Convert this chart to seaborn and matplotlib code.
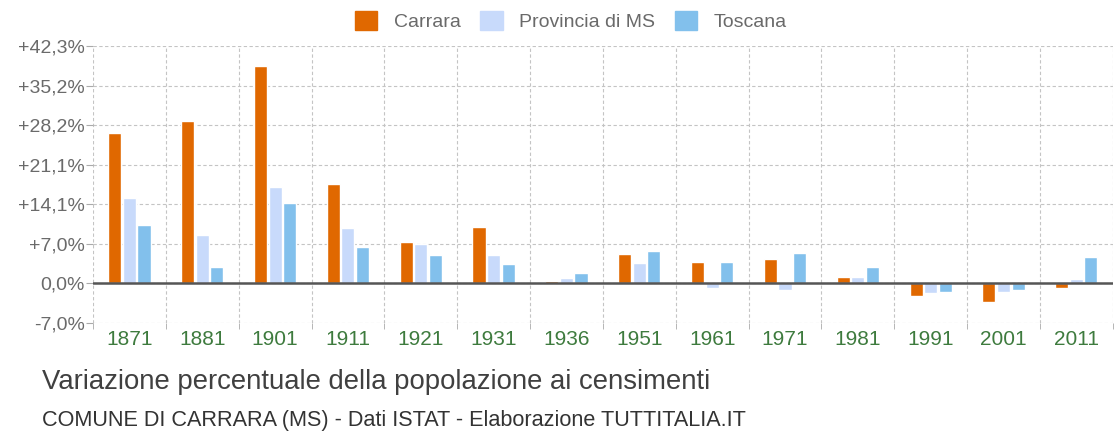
import numpy as np
import pandas as pd
import matplotlib
matplotlib.use("Agg")
import matplotlib.pyplot as plt
import seaborn as sns

# census years and percentage change per census
years = ["1871", "1881", "1901", "1911", "1921", "1931", "1936",
         "1951", "1961", "1971", "1981", "1991", "2001", "2011"]
carrara = [26.8, 29.0, 38.8, 17.8, 7.4, 10.0, 0.4, 5.3, 3.9, 4.3, 1.2, -2.3, -3.3, -0.8]
provincia = [15.2, 8.7, 17.2, 9.8, 7.1, 5.1, 1.0, 3.6, -0.8, -1.1, 1.1, -1.7, -1.5, 0.8]
toscana = [10.4, 2.9, 14.3, 6.5, 5.0, 3.5, 1.9, 5.8, 3.8, 5.4, 2.9, -1.5, -1.1, 4.7]

series_names = ["Carrara", "Provincia di MS", "Toscana"]
y_ticks = [-7.05, 0.0, 7.05, 14.1, 21.15, 28.2, 35.25, 42.3]
y_labels = ["-7,0%", "0,0%", "+7,0%", "+14,1%", "+21,1%", "+28,2%", "+35,2%", "+42,3%"]

colors = ["#e06800", "#c8dafb", "#82c0ec"]

df = pd.DataFrame({
    "anno": years * 3,
    "serie": np.repeat(series_names, len(years)),
    "valore": carrara + provincia + toscana,
})

sns.set_style("white")
plt.rcParams["font.family"] = ["Liberation Sans", "DejaVu Sans"]

fig = plt.figure(figsize=(11.15, 4.34), dpi=100, facecolor="white")
ax = fig.add_axes([0.0834, 0.2558, 0.9146, 0.6382])

sns.barplot(data=df, x="anno", y="valore", hue="serie", order=years,
            hue_order=series_names, palette=colors, width=0.6, gap=0.1,
            saturation=1, ax=ax, legend=False, zorder=3)

ax.set_xlim(-0.5, len(years) - 0.5)
ax.set_ylim(y_ticks[0], y_ticks[-1])
ax.set_yticks(y_ticks)
ax.set_yticklabels(y_labels)
ax.set_xticks(np.arange(-0.5, len(years), 1.0), minor=True)

for s in ax.spines.values():
    s.set_visible(False)

grid_kw = dict(color="#c4c4c4", linestyle=(0, (3, 2.2)), linewidth=0.8)
ax.grid(True, which="major", axis="y", **grid_kw)
ax.grid(True, which="minor", axis="x", **grid_kw)
ax.grid(False, which="major", axis="x")
ax.axhline(0, color="#555555", linewidth=1.8, zorder=4)

ax.tick_params(axis="y", which="major", length=5, color="#aaaaaa", labelsize=14,
               labelcolor="#6a6a6a", pad=1, left=True)
ax.tick_params(axis="x", which="major", length=0, labelsize=15,
               labelcolor="#3e7b3e", pad=5)
ax.tick_params(axis="x", which="minor", length=4, color="#aaaaaa", bottom=True)
ax.set_xlabel("")
ax.set_ylabel("")

handles = [plt.Rectangle((0, 0), 1, 1, color=c) for c in colors]
fig.legend(handles, series_names, loc="upper center", bbox_to_anchor=(0.512, 1.015),
           ncol=3, frameon=False, fontsize=14, labelcolor="#6a6a6a",
           handlelength=1.15, handleheight=1.15, handletextpad=0.85, columnspacing=1.0)

fig.text(0.038, 0.12, "Variazione percentuale della popolazione ai censimenti",
         fontsize=19.8, color="#404040", va="center")
fig.text(0.038, 0.032, "COMUNE DI CARRARA (MS) - Dati ISTAT - Elaborazione TUTTITALIA.IT",
         fontsize=15.6, color="#333333", va="center")

fig.savefig("out.png", dpi=100, facecolor="white")
